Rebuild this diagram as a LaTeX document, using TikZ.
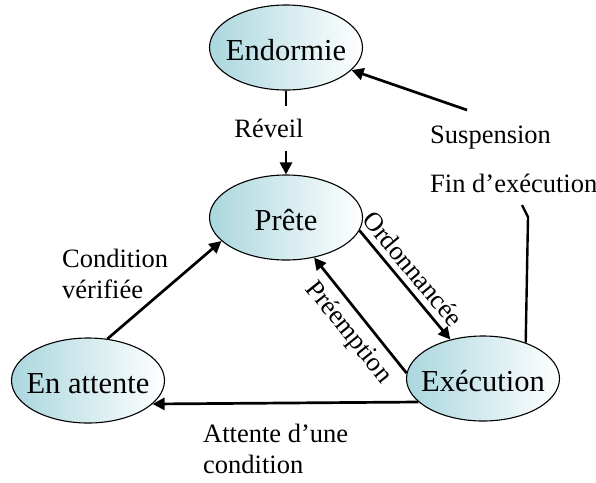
\documentclass[tikz,border=0pt]{standalone}
\usepackage{fontspec}
\setmainfont{Liberation Serif}
\usetikzlibrary{shapes.geometric,arrows.meta}
\definecolor{stateteal}{RGB}{170,215,222}
% state name, kept out of the ellipse sizing
\newcommand\sttext[1]{\makebox[0pt]{#1}}
\begin{document}
\begin{tikzpicture}[x=1pt,y=-1pt,
  state/.style={ellipse, draw, line width=1.1pt, inner sep=0pt,
    minimum width=153pt, minimum height=85pt,
    left color=stateteal, right color=white,
    text height=25pt, text depth=0pt,
    font=\fontsize{30.5}{36}\selectfont},
  lbl/.style={inner sep=0pt, font=\fontsize{26.5}{31}\selectfont},
  trans/.style={line width=2.7pt, -{Triangle[length=12pt,width=12pt]}},
  plain/.style={line width=2.4pt}
]
\useasboundingbox (0,0) rectangle (596,482);

% states
\node[state] (end) at (286,47.5) {\sttext{Endormie}};
\node[state] (pre) at (286,217.5) {\sttext{Prête}};
\node[state] (exe) at (483,378.5) {\sttext{Exécution}};
\node[state] (att) at (88,380.5) {\sttext{En attente}};

% free ends
\coordinate (s1) at (467,110);
\coordinate (f1) at (528,217);
\coordinate (f2) at (522,205);

% transitions
\draw[trans] (end.south) -- (pre.north);
\node[lbl, fill=white, minimum height=45pt, inner xsep=4pt] (lrev) at (269,128) {Réveil};

\draw[trans] (s1) -- (end);
\draw[plain] (exe.40) -- (f1) -- (f2);

\draw[trans] (pre.-10) -- node[lbl, sloped, above, pos=0.45, inner sep=6pt] (lord) {Ordonnancée} (exe.130);
\draw[trans] (exe.176) -- node[lbl, sloped, below, pos=0.46, inner sep=7pt] (lpre) {Préemption} (pre.-55);
\draw[trans] (att.65) -- (pre.200);
\draw[trans] (exe.200) -- (att.-20);

% labels
\node[lbl, anchor=base west] (lsus) at (430,143) {Suspension};
\node[lbl, anchor=base west] (lfin) at (430,192) {Fin d’exécution};
\node[lbl, anchor=base west, align=left] (lcond) at (62,298) {Condition\\vérifiée};
\node[lbl, anchor=base west, align=left] (lwait) at (203,473) {Attente d’une\\condition};
\end{tikzpicture}
\end{document}
